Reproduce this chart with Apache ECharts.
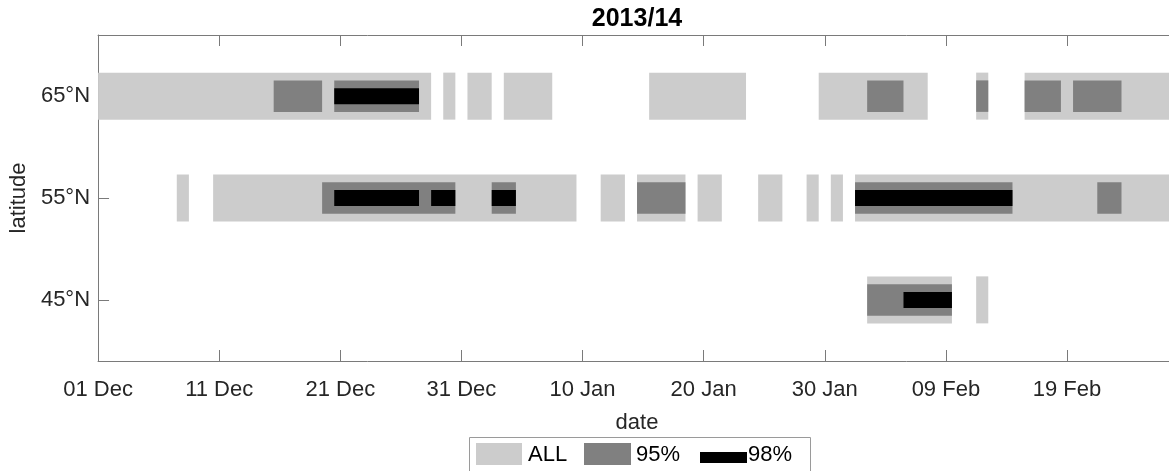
<!DOCTYPE html>
<html>
<head>
<meta charset="utf-8">
<script src="https://cdn.jsdelivr.net/npm/echarts@6/dist/echarts.min.js"></script>
<style>
  html, body { margin: 0; padding: 0; background: #ffffff; overflow: hidden; }
  /* The plot runs from 01 Dec to 28 Feb; its right end sits just past the page edge. */
  #chart { width: 1176px; height: 471px; }
</style>
</head>
<body>
<div id="chart"></div>
<script>
// Day offsets counted from 01 Dec 2013; each pair is [first day, last day] of an event.
const dayTicks = [0, 10, 20, 30, 40, 50, 60, 70, 80];
const dayTickLabels = ['01 Dec', '11 Dec', '21 Dec', '31 Dec', '10 Jan', '20 Jan', '30 Jan', '09 Feb', '19 Feb'];
const latTicks = [45, 55, 65];
const latTickLabels = ['45°N', '55°N', '65°N'];

const all65 = [[0, 27], [29, 29], [31, 32], [34, 37], [46, 53], [60, 68], [73, 73], [77, 89]];
const all55 = [[7, 7], [10, 39], [42, 43], [45, 48], [50, 51], [55, 56], [59, 59], [61, 61], [63, 89]];
const all45 = [[64, 70], [73, 73]];

const p95_65 = [[15, 18], [20, 26], [64, 66], [73, 73], [77, 79], [81, 84]];
const p95_55 = [[19, 29], [33, 34], [45, 48], [63, 75], [83, 84]];
const p95_45 = [[64, 70]];

const p98_65 = [[20, 26]];
const p98_55 = [[20, 26], [28, 29], [33, 34], [63, 75]];
const p98_45 = [[67, 70]];

const seriesNames = ['ALL', '95%', '98%'];
const seriesColors = ['#cccccc', '#808080', '#000000'];

function withLat(list, lat) {
  return list.map(function (d) { return [d[0], d[1], lat]; });
}

// Draws one horizontal band per event, spanning whole days, clipped to the plot.
function bandRenderer(halfHeight) {
  return function (params, api) {
    const lat = api.value(2);
    const a = api.coord([api.value(0) - 0.5, lat]);
    const b = api.coord([api.value(1) + 0.5, lat]);
    const cs = params.coordSys;
    const shape = echarts.graphic.clipRectByRect(
      { x: a[0], y: a[1] - halfHeight, width: b[0] - a[0], height: halfHeight * 2 },
      { x: cs.x, y: cs.y, width: cs.width, height: cs.height }
    );
    return shape && { type: 'rect', shape: shape, style: api.style() };
  };
}

const FONT = 'Liberation Sans, Arial, Helvetica, sans-serif';
const TEXT = '#262626';
const AXIS = '#7a7a7a';

const chart = echarts.init(document.getElementById('chart'), null, { renderer: 'canvas' });

const tickLabel = function (v) {
  const i = dayTicks.indexOf(v);
  return i >= 0 ? dayTickLabels[i] : '';
};

chart.setOption({
  animation: false,
  backgroundColor: '#ffffff',
  title: {
    text: '2013/14',
    left: 637,
    top: 7,
    padding: 0,
    textAlign: 'center',
    textStyle: { fontFamily: FONT, fontSize: 25, fontWeight: 'bold', color: '#000000' }
  },
  grid: { left: 96, right: 0, top: 35, bottom: 110, containLabel: false },
  xAxis: [
    {
      type: 'value', min: 0, max: 89, position: 'bottom',
      name: 'date', nameLocation: 'middle', nameGap: 51,
      nameTextStyle: { fontFamily: FONT, fontSize: 22, color: TEXT },
      axisLine: { show: true, lineStyle: { color: AXIS, width: 1 } },
      axisTick: { show: true, inside: true, length: 11, customValues: dayTicks, lineStyle: { color: AXIS } },
      axisLabel: { customValues: dayTicks, formatter: tickLabel, margin: 18, fontFamily: FONT, fontSize: 22, color: TEXT },
      splitLine: { show: false }
    },
    {
      type: 'value', min: 0, max: 89, position: 'top',
      axisLine: { show: true, lineStyle: { color: AXIS, width: 1 } },
      axisTick: { show: true, inside: true, length: 11, customValues: dayTicks, lineStyle: { color: AXIS } },
      axisLabel: { show: false },
      splitLine: { show: false }
    }
  ],
  yAxis: {
    type: 'value', min: 39, max: 71,
    name: 'latitude', nameLocation: 'middle', nameGap: 66, nameRotate: 90,
    nameTextStyle: { fontFamily: FONT, fontSize: 22, color: TEXT },
    axisLine: { show: true, lineStyle: { color: AXIS, width: 1 } },
    axisTick: { show: true, inside: true, length: 11, customValues: latTicks, lineStyle: { color: AXIS } },
    axisLabel: {
      customValues: latTicks,
      formatter: function (v) { return latTickLabels[latTicks.indexOf(v)]; },
      margin: 8, fontFamily: FONT, fontSize: 22, color: TEXT
    },
    splitLine: { show: false }
  },
  series: [
    {
      name: seriesNames[0], type: 'custom', renderItem: bandRenderer(23.5),
      itemStyle: { color: seriesColors[0] }, encode: { x: [0, 1], y: 2 },
      data: withLat(all65, 65).concat(withLat(all55, 55), withLat(all45, 45)), z: 1
    },
    {
      name: seriesNames[1], type: 'custom', renderItem: bandRenderer(15.75),
      itemStyle: { color: seriesColors[1] }, encode: { x: [0, 1], y: 2 },
      data: withLat(p95_65, 65).concat(withLat(p95_55, 55), withLat(p95_45, 45)), z: 2
    },
    {
      name: seriesNames[2], type: 'custom', renderItem: bandRenderer(8),
      itemStyle: { color: seriesColors[2] }, encode: { x: [0, 1], y: 2 },
      data: withLat(p98_65, 65).concat(withLat(p98_55, 55), withLat(p98_45, 45)), z: 3
    }
  ],
  // Boxed key below the axis
  graphic: [
    { type: 'rect', left: 469, top: 437, shape: { width: 341, height: 44 },
      style: { fill: '#ffffff', stroke: '#9a9a9a', lineWidth: 1 }, z: 10 },
    { type: 'rect', left: 476, top: 443, shape: { width: 46, height: 22 }, style: { fill: seriesColors[0] }, z: 11 },
    { type: 'text', left: 528, top: 444, style: { text: seriesNames[0], font: '22px ' + FONT, fill: '#000000' }, z: 11 },
    { type: 'rect', left: 584, top: 443, shape: { width: 47, height: 22 }, style: { fill: seriesColors[1] }, z: 11 },
    { type: 'text', left: 636, top: 444, style: { text: seriesNames[1], font: '22px ' + FONT, fill: '#000000' }, z: 11 },
    { type: 'rect', left: 700, top: 452, shape: { width: 47, height: 11 }, style: { fill: seriesColors[2] }, z: 11 },
    { type: 'text', left: 748, top: 444, style: { text: seriesNames[2], font: '22px ' + FONT, fill: '#000000' }, z: 11 }
  ]
});
</script>
</body>
</html>
